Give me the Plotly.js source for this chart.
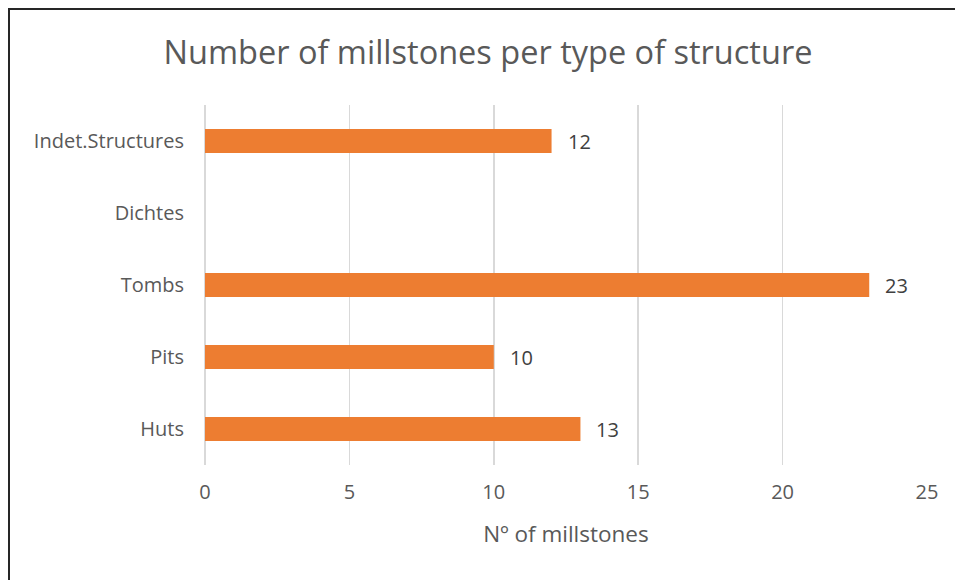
<!DOCTYPE html>
<html>
<head>
<meta charset="utf-8">
<script src="https://cdn.plot.ly/plotly-3.0.1.min.js"></script>
<style>
  html, body { margin: 0; padding: 0; background: #fff; }
  #wrap { position: relative; width: 955px; height: 580px; }
  #chart { width: 955px; height: 580px; }
  .bt { position: absolute; left: 8px; top: 8px; width: 947px; height: 0; border-top: 2px solid #262626; }
  .bl { position: absolute; left: 8px; top: 8px; width: 0; height: 572px; border-left: 2px solid #262626; }
</style>
</head>
<body>
<div id="wrap">
  <div id="chart"></div>
  <div class="bt"></div>
  <div class="bl"></div>
</div>
<script>
const categories = ["Huts", "Pits", "Tombs", "Dichtes", "Indet.Structures"];
const values = [13, 10, 23, null, 12];
const xTicks = [0, 5, 10, 15, 20, 25];

const annotations = categories.map((c, i) => values[i] == null ? null : ({
  x: values[i], y: c, xref: 'x', yref: 'y',
  text: String(values[i]), showarrow: false,
  xanchor: 'left', xshift: 14,
  font: { family: 'Open Sans, sans-serif', size: 20, color: '#404040' }
})).filter(a => a);

const trace = {
  type: 'bar', orientation: 'h',
  y: categories, x: values,
  marker: { color: '#ED7D31' },
  width: 0.33,
  hoverinfo: 'none'
};

const layout = {
  width: 955, height: 580,
  margin: { l: 205, r: 28, t: 105, b: 115 },
  paper_bgcolor: '#ffffff', plot_bgcolor: '#ffffff',
  showlegend: false,
  font: { family: 'Open Sans, sans-serif', color: '#595959' },
  title: {
    text: 'Number of millstones per type of structure',
    font: { family: 'Open Sans, sans-serif', size: 32.5, color: '#595959' },
    x: 0.511, xanchor: 'center', y: 0.91, yanchor: 'middle'
  },
  xaxis: {
    range: [0, 25], tickvals: xTicks, ticktext: xTicks.map(String),
    showgrid: true, gridcolor: '#d9d9d9', gridwidth: 1.5,
    zeroline: true, zerolinecolor: '#d9d9d9', zerolinewidth: 1.5,
    showline: false, ticks: '',
    tickfont: { size: 20, color: '#595959' },
    ticklabelstandoff: 13,
    title: { text: 'Nº of millstones', font: { size: 22.5, color: '#595959' }, standoff: 22 }
  },
  yaxis: {
    categoryorder: 'array', categoryarray: categories,
    range: [-0.5, 4.5],
    showgrid: false, zeroline: false, showline: false, ticks: '',
    tickfont: { size: 20, color: '#595959' },
    ticklabelstandoff: 20
  },
  annotations: annotations
};

Plotly.newPlot('chart', [trace], layout, { displayModeBar: false, staticPlot: true });
</script>
</body>
</html>
